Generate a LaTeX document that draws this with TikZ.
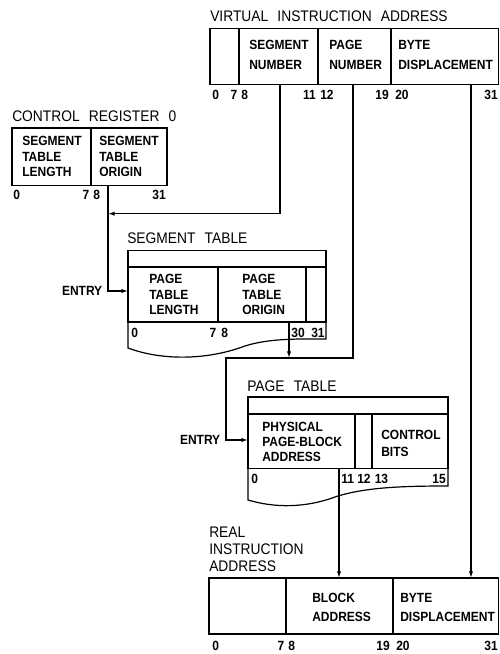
\documentclass[tikz,border=0pt]{standalone}
\usepackage{fontspec}
\setmainfont{Liberation Sans}
\newfontfamily\lf{Liberation Sans}[FakeStretch=0.9]
\newfontfamily\tf{Liberation Sans}[FakeStretch=0.9,WordSpace=2.4]
\usetikzlibrary{arrows.meta}
\begin{document}
\begin{tikzpicture}[x=0.75pt,y=-0.75pt,
  box/.style={draw,line width=0.9pt},
  conn/.style={line width=0.9pt},
  arr/.style={conn,-{Latex[length=5pt,width=3.2pt]}},
  ttl/.style={font=\tf\fontsize{11.5}{#1}\selectfont,anchor=west,inner sep=0pt,align=left},
  ttl/.default=13pt,
  lab/.style={font=\lf\bfseries\fontsize{10}{#1}\selectfont,anchor=west,inner sep=0pt,align=left},
  lab/.default=12pt,
  bit/.style={font=\lf\bfseries\fontsize{10}{12}\selectfont,inner sep=0pt},
  bw/.style={bit,anchor=west},
  be/.style={bit,anchor=east}]
\useasboundingbox (0,0) rectangle (500,654);

% ---------- Virtual instruction address ----------
\node[ttl] (viat) at (210,16.7) {VIRTUAL INSTRUCTION ADDRESS};
\draw[box] (210,28.4) rectangle (498.5,84.7);
\draw[box] (239,28.4)--(239,84.7) (318,28.4)--(318,84.7) (391,28.4)--(391,84.7);
\node[lab=14.8pt] (vsn) at (249,54.9) {SEGMENT\\NUMBER};
\node[lab=14.8pt] (vpn) at (329,54.9) {PAGE\\NUMBER};
\node[lab=14.8pt] (vbd) at (398,54.9) {BYTE\\DISPLACEMENT};
\node[bw] (v0) at (212,95) {0};
\node[be] (v7) at (237.5,95) {7};
\node[bw] (v8) at (241,95) {8};
\node[be] (v11) at (316,95) {11};
\node[bw] (v12) at (320,95) {12};
\node[be] (v19) at (389,95) {19};
\node[bw] (v20) at (395,95) {20};
\node[be] (v31) at (498,95) {31};

% ---------- Control register 0 ----------
\node[ttl] (crt) at (12,116) {CONTROL REGISTER 0};
\draw[box] (12,128) rectangle (167,185.7);
\draw[box] (91,128)--(91,185.7);
\node[lab=11.6pt] (crl) at (22,156.5) {SEGMENT\\TABLE\\LENGTH};
\node[lab=11.6pt] (cro) at (99,156.5) {SEGMENT\\TABLE\\ORIGIN};
\node[bw] (c0) at (13,195) {0};
\node[be] (c7) at (89.5,195) {7};
\node[bw] (c8) at (93,195) {8};
\node[be] (c31) at (166,195) {31};

% ---------- Segment table ----------
\node[ttl] (stt) at (127,238.7) {SEGMENT TABLE};
\draw[box] (128,250.4) rectangle (326,322);
\draw[box] (128,267)--(326,267) (218,267)--(218,322) (306,267)--(306,322);
\draw[box] (128,322)--(128,348) .. controls (160,360) and (205,361) .. (245,346)
   .. controls (270,338) and (300,339) .. (326,339) -- (326,322);
\node[lab=11.6pt] (stl) at (149,294.5) {PAGE\\TABLE\\LENGTH};
\node[lab=11.6pt] (sto) at (242,294.5) {PAGE\\TABLE\\ORIGIN};
\node[bw] (s0) at (131,332.6) {0};
\node[be] (s7) at (216.5,332.6) {7};
\node[bw] (s8) at (221,332.6) {8};
\node[be] (s30) at (305,332.6) {30};
\node[bw] (s31) at (311,332.6) {31};
\node[lab,anchor=east] (sentry) at (102.5,291) {ENTRY};

% ---------- Page table ----------
\node[ttl] (ptt) at (247,386) {PAGE TABLE};
\draw[box] (248,397) rectangle (448,468.6);
\draw[box] (248,414)--(448,414) (355,414)--(355,468.6) (372,414)--(372,468.6);
\draw[box] (248,468.6)--(248,500) .. controls (275,508) and (305,508) .. (335,497)
   .. controls (365,487) and (405,486) .. (448,486) -- (448,468.6);
\node[lab=11.4pt] (ppa) at (262,441.8) {PHYSICAL\\PAGE-BLOCK\\ADDRESS};
\node[lab=12.4pt] (pcb) at (381,443.2) {CONTROL\\BITS};
\node[bw] (p0) at (251,479) {0};
\node[bw] (p11) at (341,479) {11};
\node[bw] (p12) at (357,479) {12};
\node[bw] (p13) at (374.5,479) {13};
\node[be] (p15) at (446,479) {15};
\node[lab,anchor=east] (pentry) at (220.5,440) {ENTRY};

% ---------- Real instruction address ----------
\node[ttl=13pt] (rit) at (209,549.4) {REAL\\INSTRUCTION\\ADDRESS};
\draw[box] (209,578) rectangle (498.5,634);
\draw[box] (286,578)--(286,634) (393,578)--(393,634);
\node[lab=14.25pt] (rba) at (312,607.5) {BLOCK\\ADDRESS};
\node[lab=14.25pt] (rbd) at (400,607.5) {BYTE\\DISPLACEMENT};
\node[bw] (r0) at (212,646) {0};
\node[be] (r7) at (284.5,646) {7};
\node[bw] (r8) at (288,646) {8};
\node[be] (r19) at (390,646) {19};
\node[bw] (r20) at (396,646) {20};
\node[be] (r31) at (498,646) {31};

% ---------- connector end points ----------
\coordinate (segtap) at (280,84.7);
\coordinate (pgtap) at (353,84.7);
\coordinate (bdtap) at (471,84.7);
\coordinate (crin) at (108,213.7);
\coordinate (crtap) at (108,185.7);
\coordinate (segin) at (128,291);
\coordinate (sttap) at (289,322);
\coordinate (merge) at (289,358);
\coordinate (bend) at (226,358);
\coordinate (ptin) at (248,440);
\coordinate (pttap) at (339,468.6);
\coordinate (rbain) at (339,578);
\coordinate (rbdin) at (471,578);

% ---------- connectors ----------
\draw[arr] (segtap) |- (crin);
\draw[arr] (crtap) |- (segin);
\draw[arr] (sttap) -- (merge);
\draw[arr] (pgtap) |- (bend) |- (ptin);
\draw[arr] (pttap) -- (rbain);
\draw[arr] (bdtap) -- (rbdin);
\end{tikzpicture}
\end{document}
